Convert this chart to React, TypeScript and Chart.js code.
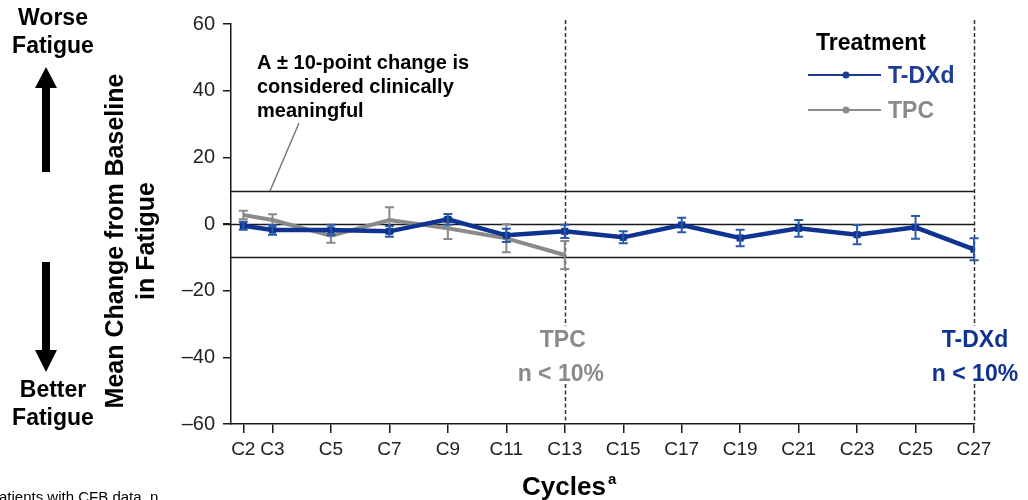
import { useEffect, useRef } from "react";
import { Chart, registerables } from "chart.js";

Chart.register(...registerables);

// Cycle positions and their tick labels
const xTickCycles = [2, 3, 5, 7, 9, 11, 13, 15, 17, 19, 21, 23, 25, 27];
const xTickLabels = ["C2", "C3", "C5", "C7", "C9", "C11", "C13", "C15", "C17", "C19", "C21", "C23", "C25", "C27"];
const yTickValues = [-60, -40, -20, 0, 20, 40, 60];

// T-DXd: mean change from baseline and half-width of error bar
const tdxdCycles = [2, 3, 5, 7, 9, 11, 13, 15, 17, 19, 21, 23, 25, 27];
const tdxdMean = [-0.5, -1.8, -1.8, -2.2, 1.4, -3.4, -2.2, -4.0, -0.3, -4.2, -1.3, -3.2, -1.0, -7.6];
const tdxdErr = [1.2, 1.4, 1.6, 1.6, 1.6, 2.0, 2.0, 1.8, 2.2, 2.5, 2.5, 2.9, 3.4, 3.3];

// TPC: mean change from baseline and half-width of error bar
const tpcCycles = [2, 3, 5, 7, 9, 11, 13];
const tpcMean = [2.7, 1.2, -3.5, 1.2, -1.3, -4.3, -9.3];
const tpcErr = [1.3, 1.7, 2.1, 3.8, 3.2, 4.2, 4.2];

// Reference lines: clinically meaningful band and zero
const refLineValues = [10, 0, -10];
// Cycles where fewer than 10% of patients remain
const cutoffCycles = [13, 27];
const cutoffNames = ["TPC", "T-DXd"];

const BLUE = "#0f3390";
const BLUE_BAR = "#2a5aa8";
const GRAY = "#8a8a8a";
const INK = "#1a1a1a";
const FONT = "'Liberation Sans', Arial, Helvetica, sans-serif";

const errorSets = [
  { cycles: tdxdCycles, mean: tdxdMean, err: tdxdErr, color: BLUE_BAR },
  { cycles: tpcCycles, mean: tpcMean, err: tpcErr, color: GRAY },
];

// Vertical band (px) kept clear of the dashed line where the cutoff labels sit
const LABEL_GAP_TOP = 326;
const LABEL_GAP_BOTTOM = 384;

function text(ctx: CanvasRenderingContext2D, s: string, x: number, y: number, font: string, color: string, align: CanvasTextAlign = "left") {
  ctx.font = font;
  ctx.fillStyle = color;
  ctx.textAlign = align;
  ctx.textBaseline = "alphabetic";
  ctx.fillText(s, x, y);
}

function arrow(ctx: CanvasRenderingContext2D, x: number, tail: number, base: number, tip: number) {
  ctx.fillStyle = "#000";
  const top = Math.min(tail, base);
  ctx.fillRect(x - 4, top, 8, Math.abs(base - tail));
  ctx.beginPath();
  ctx.moveTo(x - 11, base);
  ctx.lineTo(x + 11, base);
  ctx.lineTo(x, tip);
  ctx.closePath();
  ctx.fill();
}

const overlay = {
  id: "overlay",
  beforeDatasetsDraw(chart: any) {
    const { ctx, chartArea, scales } = chart;
    const xs = scales.x;
    const ys = scales.y;
    ctx.save();
    ctx.strokeStyle = INK;
    ctx.lineWidth = 1.5;
    refLineValues.forEach((v) => {
      const y = Math.round(ys.getPixelForValue(v)) + 0.5;
      ctx.beginPath();
      ctx.moveTo(v === 0 ? chartArea.left - 8 : chartArea.left, y);
      ctx.lineTo(chartArea.right, y);
      ctx.stroke();
    });
    ctx.strokeStyle = "#333";
    ctx.setLineDash([4, 2.5]);
    cutoffCycles.forEach((c) => {
      const x = Math.round(xs.getPixelForValue(c)) + 0.5;
      ctx.beginPath();
      ctx.moveTo(x, chartArea.top - 4);
      ctx.lineTo(x, LABEL_GAP_TOP);
      ctx.stroke();
      ctx.beginPath();
      ctx.moveTo(x, LABEL_GAP_BOTTOM);
      ctx.lineTo(x, chartArea.bottom);
      ctx.stroke();
    });
    ctx.restore();
  },
  afterDatasetDraw(chart: any, args: any) {
    const set = errorSets[args.index];
    if (!set) return;
    const { ctx, scales } = chart;
    const xs = scales.x;
    const ys = scales.y;
    ctx.save();
    ctx.strokeStyle = set.color;
    ctx.lineWidth = 2;
    set.cycles.forEach((c, i) => {
      const x = xs.getPixelForValue(c);
      const y1 = ys.getPixelForValue(set.mean[i] + set.err[i]);
      const y2 = ys.getPixelForValue(set.mean[i] - set.err[i]);
      ctx.beginPath();
      ctx.moveTo(x, y1);
      ctx.lineTo(x, y2);
      ctx.moveTo(x - 4.5, y1);
      ctx.lineTo(x + 4.5, y1);
      ctx.moveTo(x - 4.5, y2);
      ctx.lineTo(x + 4.5, y2);
      ctx.stroke();
    });
    ctx.restore();
  },
  afterDraw(chart: any) {
    const { ctx, scales } = chart;
    const xs = scales.x;
    ctx.save();

    // Direction cues on the far left
    const side = `bold 23px ${FONT}`;
    text(ctx, "Worse", 53, 25, side, "#000", "center");
    text(ctx, "Fatigue", 53, 53, side, "#000", "center");
    text(ctx, "Better", 53, 397, side, "#000", "center");
    text(ctx, "Fatigue", 53, 425, side, "#000", "center");
    arrow(ctx, 46, 172, 88, 67);
    arrow(ctx, 46, 262, 350, 372);

    // Y-axis title (two rotated lines)
    ctx.save();
    ctx.translate(0, 241);
    ctx.rotate(-Math.PI / 2);
    ctx.font = `bold 25px ${FONT}`;
    ctx.fillStyle = "#000";
    ctx.textAlign = "center";
    ctx.textBaseline = "middle";
    ctx.fillText("Mean Change from Baseline", 0, 116);
    ctx.fillText("in Fatigue", 0, 147);
    ctx.restore();

    // X-axis title with superscript
    text(ctx, "Cycles", 522, 495, `bold 26px ${FONT}`, "#000");
    text(ctx, "a", 608, 484, `bold 15px ${FONT}`, "#000");

    // Footnote row, running off the bottom-left
    text(ctx, "Patients with CFB data, n", -11, 502, `15px ${FONT}`, "#000");

    // Clinically meaningful band annotation
    const ann = `bold 20px ${FONT}`;
    text(ctx, "A \u00b1 10-point change is", 257, 69, ann, "#000");
    text(ctx, "considered clinically", 257, 93, ann, "#000");
    text(ctx, "meaningful", 257, 117, ann, "#000");
    ctx.strokeStyle = "#7a7a7a";
    ctx.lineWidth = 1.5;
    ctx.beginPath();
    ctx.moveTo(299, 123);
    ctx.lineTo(270, 191);
    ctx.stroke();

    // Low-sample notes at the cutoff cycles
    const lbl = `bold 23px ${FONT}`;
    const colors = [GRAY, BLUE];
    const nudges = [-2, 1];
    cutoffCycles.forEach((c, i) => {
      const x = xs.getPixelForValue(c) + nudges[i];
      text(ctx, cutoffNames[i], x, 347, lbl, colors[i], "center");
      text(ctx, "n < 10%", x - (i === 0 ? 2 : 0), 381, lbl, colors[i], "center");
    });

    // Legend
    text(ctx, "Treatment", 816, 50, `bold 23px ${FONT}`, "#000");
    const rows = [
      { name: "T-DXd", color: "#1d3d95", y: 75 },
      { name: "TPC", color: GRAY, y: 110 },
    ];
    rows.forEach((r) => {
      ctx.strokeStyle = r.color;
      ctx.lineWidth = 2;
      ctx.beginPath();
      ctx.moveTo(808, r.y);
      ctx.lineTo(881, r.y);
      ctx.stroke();
      ctx.fillStyle = r.color;
      ctx.beginPath();
      ctx.arc(846, r.y, 3.5, 0, Math.PI * 2);
      ctx.fill();
      text(ctx, r.name, 888, r.y + 8, `bold 23px ${FONT}`, r.color);
    });

    ctx.restore();
  },
};

export default function App() {
  const canvasRef = useRef<HTMLCanvasElement | null>(null);

  useEffect(() => {
    const canvas = canvasRef.current;
    if (!canvas) return;
    const chart = new Chart(canvas, {
      type: "line",
      data: {
        datasets: [
          {
            label: "T-DXd",
            data: tdxdCycles.map((c, i) => ({ x: c, y: tdxdMean[i] })),
            borderColor: BLUE,
            backgroundColor: BLUE,
            borderWidth: 4.5,
            pointStyle: "rect",
            pointRadius: 5,
            pointBorderWidth: 0,
            tension: 0,
          },
          {
            label: "TPC",
            data: tpcCycles.map((c, i) => ({ x: c, y: tpcMean[i] })),
            borderColor: GRAY,
            backgroundColor: GRAY,
            borderWidth: 4,
            pointRadius: 0,
            tension: 0,
          },
        ],
      },
      options: {
        animation: false,
        responsive: false,
        devicePixelRatio: 1,
        layout: { padding: { left: 151, right: 54, top: 24, bottom: 26 } },
        plugins: { legend: { display: false }, tooltip: { enabled: false }, title: { display: false } },
        scales: {
          x: {
            type: "linear",
            min: 1.58,
            max: 27,
            afterFit: (s: any) => {
              s.height = 50;
            },
            afterBuildTicks: (s: any) => {
              s.ticks = xTickCycles.map((v) => ({ value: v }));
            },
            grid: { drawOnChartArea: false, drawTicks: true, tickLength: 9, color: INK, lineWidth: 1.5 },
            border: { display: true, color: INK, width: 1.5 },
            ticks: {
              autoSkip: false,
              maxRotation: 0,
              padding: 5,
              color: "#222",
              font: { family: FONT, size: 19 },
              callback: (v: any) => {
                const i = xTickCycles.indexOf(Number(v));
                return i >= 0 ? xTickLabels[i] : "";
              },
            },
          },
          y: {
            type: "linear",
            min: -60,
            max: 60,
            afterFit: (s: any) => {
              s.width = 80;
            },
            afterBuildTicks: (s: any) => {
              s.ticks = yTickValues.map((v) => ({ value: v }));
            },
            grid: { drawOnChartArea: false, drawTicks: true, tickLength: 8, color: INK, lineWidth: 1.5 },
            border: { display: true, color: INK, width: 1.5 },
            ticks: {
              padding: 8,
              color: "#222",
              font: { family: FONT, size: 20 },
              callback: (v: any) => String(v).replace("-", "\u2013"),
            },
          },
        },
      },
      plugins: [overlay],
    });
    return () => chart.destroy();
  }, []);

  return (
    <div style={{ position: "absolute", left: 0, top: 0, width: 1028, height: 500, background: "#fff" }}>
      <canvas ref={canvasRef} width={1028} height={500} />
    </div>
  );
}
